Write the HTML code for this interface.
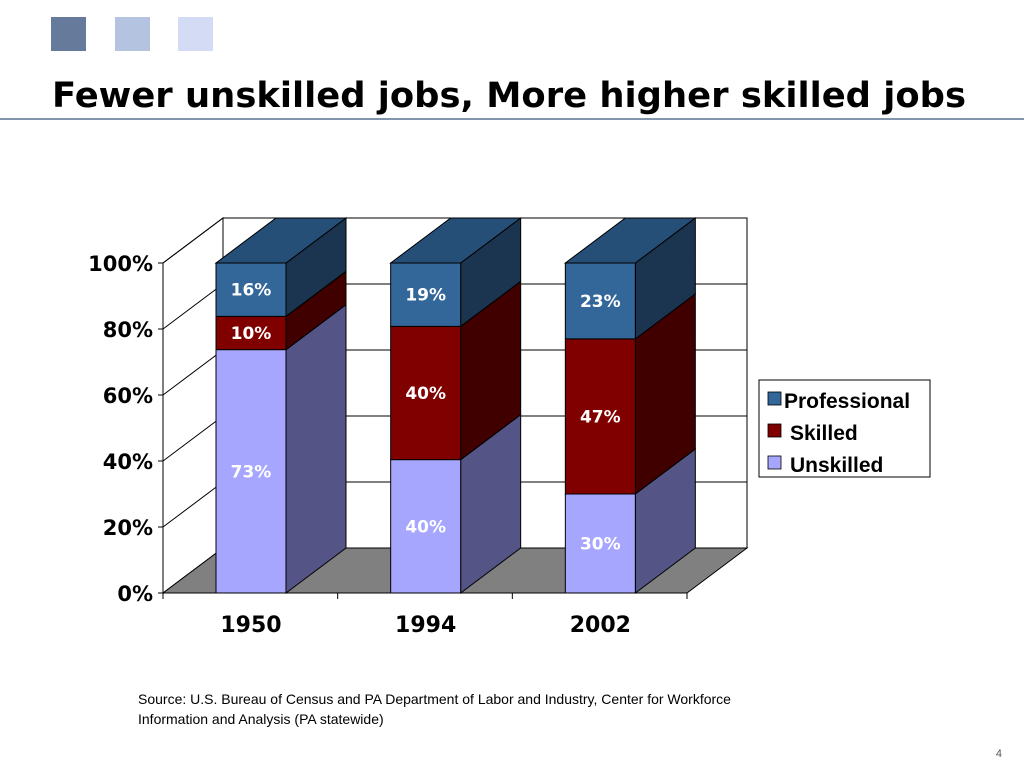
<!DOCTYPE html>
<html><head><meta charset="utf-8"><style>
body{margin:0;background:#fff;width:1024px;height:768px;overflow:hidden;font-family:"Liberation Sans",sans-serif}
</style></head><body>
<svg id="svg" width="1024" height="768" xmlns="http://www.w3.org/2000/svg">
<rect x="51" y="17" width="35" height="34" fill="#667b9c"/>
<rect x="115" y="17" width="35" height="34" fill="#b4c4e0"/>
<rect x="178" y="17" width="35" height="34" fill="#d4dcf5"/>
<text x="52" y="107" font-size="35" font-weight="bold" font-family="DejaVu Sans, Liberation Sans, sans-serif" textLength="914" lengthAdjust="spacingAndGlyphs">Fewer unskilled jobs, More higher skilled jobs</text>
<line x1="0" y1="119" x2="1024" y2="119" stroke="#5a7090" stroke-width="1.5"/>
<g id="chart"></g>
<g>
<rect x="759" y="380" width="171" height="97" fill="#fff" stroke="#000"/>
<rect x="768" y="392" width="13" height="13" fill="#336699" stroke="#000" stroke-width="0.8"/>
<text x="784" y="408" font-size="21" font-weight="bold">Professional</text>
<rect x="768" y="424" width="13" height="13" fill="#800000" stroke="#000" stroke-width="0.8"/>
<text x="790" y="440" font-size="21" font-weight="bold">Skilled</text>
<rect x="768" y="456" width="13" height="13" fill="#a6a6ff" stroke="#000" stroke-width="0.8"/>
<text x="790" y="472" font-size="21" font-weight="bold">Unskilled</text>
</g>
<text x="138" y="704" font-size="14">Source: U.S. Bureau of Census and PA Department of Labor and Industry, Center for Workforce</text>
<text x="138" y="724" font-size="14">Information and Analysis (PA statewide)</text>
<text x="1002" y="757" font-size="11" fill="#555" text-anchor="end">4</text>
</svg>
<script>
const categories = ["1950", "1994", "2002"];
const unskilled = [73, 40, 30];
const skilled = [10, 40, 47];
const professional = [16, 19, 23];
const yTicks = ["0%", "20%", "40%", "60%", "80%", "100%"];

const NS = "http://www.w3.org/2000/svg";
const g = document.getElementById("chart");
const x0 = 163, y0 = 593, H = 330, DX = 60, DY = -45, W = 524;
const yScale = p => y0 - p / 100 * H;
const bandW = W / categories.length;
const xBar = i => x0 + bandW * i + 53;
const BW = 70;
function el(tag, attrs, parent) {
  const e = document.createElementNS(NS, tag);
  for (const k in attrs) e.setAttribute(k, attrs[k]);
  (parent || g).appendChild(e);
  return e;
}
function poly(pts, fill, name) {
  const p = el("polygon", {points: pts.map(q => q.join(",")).join(" "), fill: fill, stroke: "#000", "stroke-width": 1});
  
  
  return p;
}
// walls & floor
poly([[x0, y0], [x0 + DX, y0 + DY], [x0 + DX, y0 + DY - H], [x0, y0 - H]], "#fff", "left-wall");
poly([[x0 + DX, y0 + DY], [x0 + DX + W, y0 + DY], [x0 + DX + W, y0 + DY - H], [x0 + DX, y0 + DY - H]], "#fff", "back-wall");
poly([[x0, y0], [x0 + W, y0], [x0 + W + DX, y0 + DY], [x0 + DX, y0 + DY]], "#808080", "floor");
yTicks.forEach((t, k) => {
  const v = k * 20, y = yScale(v);
  if (k > 0 && k < yTicks.length) {
    const l = el("polyline", {points: `${x0},${y} ${x0 + DX},${y + DY} ${x0 + DX + W},${y + DY}`, fill: "none", stroke: "#000", "stroke-width": 1});
    
    
  }
  const tk = el("line", {x1: x0 - 5, y1: y, x2: x0, y2: y, stroke: "#000"});
  
  
  const tx = el("text", {x: 153, y: y + 8, "font-size": 21, "font-weight": "bold", "text-anchor": "end", "font-family": "DejaVu Sans, Liberation Sans, sans-serif"});
  tx.textContent = t;
  
  
});
const ax = el("line", {x1: x0, y1: y0 - H, x2: x0, y2: y0, stroke: "#000"});


const bx = el("line", {x1: x0, y1: y0, x2: x0 + W, y2: y0, stroke: "#000"});


for (let i = 0; i <= categories.length; i++) {
  const xt = el("line", {x1: x0 + bandW * i, y1: y0, x2: x0 + bandW * i, y2: y0 + 6, stroke: "#000"});
  
  
}
const series = [
  {name: "unskilled", vals: unskilled, front: "#a6a6ff", side: "#545486", top: "#7c7cc0"},
  {name: "skilled", vals: skilled, front: "#800000", side: "#400000", top: "#600000"},
  {name: "professional", vals: professional, front: "#336699", side: "#1b3550", top: "#264f77"}
];
categories.forEach((c, i) => {
  const total = unskilled[i] + skilled[i] + professional[i];
  let cum = 0;
  const x = xBar(i);
  series.forEach((s, si) => {
    const v = s.vals[i] / total * 100;
    const yb = yScale(cum), yt = yScale(cum + v);
    cum += v;
    poly([[x + BW, yb], [x + BW + DX, yb + DY], [x + BW + DX, yt + DY], [x + BW, yt]], s.side, `bar-side-${s.name}-${c}`);
    poly([[x, yb], [x + BW, yb], [x + BW, yt], [x, yt]], s.front, `bar-${s.name}-${c}`);
    if (si === series.length - 1) poly([[x, yt], [x + BW, yt], [x + BW + DX, yt + DY], [x + DX, yt + DY]], s.top, `bar-top-${c}`);
    const lbl = el("text", {x: x + BW / 2, y: (yb + yt) / 2 + 6, "font-size": 17, "font-weight": "bold", fill: "#fff", "text-anchor": "middle", "font-family": "DejaVu Sans, Liberation Sans, sans-serif"});
    lbl.textContent = s.vals[i] + "%";
    
    
  });
  const cl = el("text", {x: x + BW / 2, y: 632, "font-size": 22, "font-weight": "bold", "text-anchor": "middle", "font-family": "DejaVu Sans, Liberation Sans, sans-serif"});
  cl.textContent = c;
  
  
});
</script>
</body></html>
